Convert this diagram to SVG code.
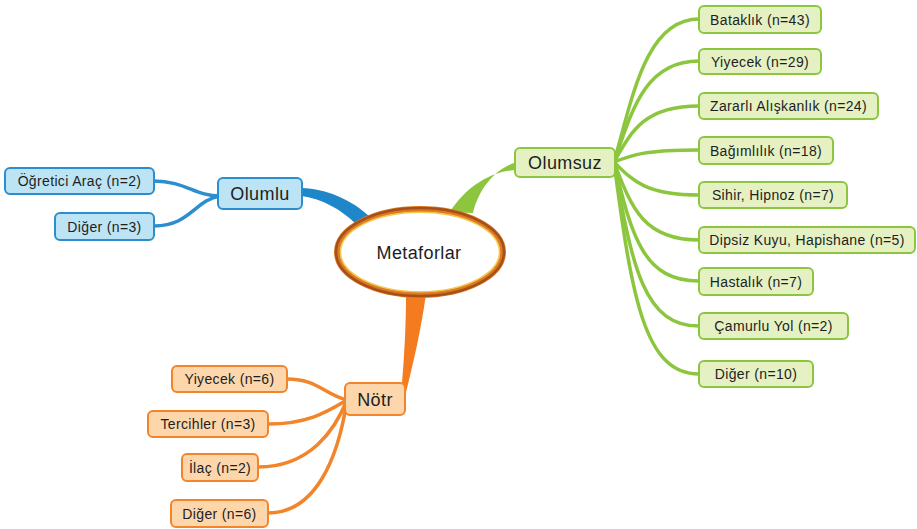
<svg xmlns="http://www.w3.org/2000/svg" width="917" height="529" viewBox="0 0 917 529">
<style>
text{font-family:"Liberation Sans",Arial,sans-serif;fill:#1e1e1e;text-anchor:middle;dominant-baseline:central}
.c{font-size:14px;letter-spacing:0.35px}
.m{font-size:18px;letter-spacing:0.4px}
.b rect{fill:#bde4f4;stroke:#2b8fcf;stroke-width:2}
.g rect{fill:#e5f1c3;stroke:#8cc63f;stroke-width:2}
.o rect{fill:#fdd6ac;stroke:#f2842a;stroke-width:2}
.lb{fill:none;stroke:#2b8fcf;stroke-width:3.5}
.lg{fill:none;stroke:#8cc63f;stroke-width:3.5}
.lo{fill:none;stroke:#f2842a;stroke-width:3.5}
</style>
<g id="connectors">
<path d="M302 188 C326 189 352 199 372 219 L357 225 C341 209 322 199 302 196 Z" fill="#1f87c9"/>
<path d="M517 162 C496 168 479 188 473 213 L450 212 C465 188 490 171 517 170 Z" fill="#8cc63f"/>
<path d="M406 294 L426 294 C421 330 413 365 405 396 L401 396 C404 360 406 330 406 294 Z" fill="#f47b20"/>
<path class="lb" d="M220 196 C195 196 185 181 154 181"/>
<path class="lb" d="M220 196 C195 200 190 226 154 226"/>
<path class="lg" d="M614 162 C632 100 645 19 699 19"/>
<path class="lg" d="M614 162 C632 110 645 61 699 61"/>
<path class="lg" d="M614 162 C632 130 645 106 699 106"/>
<path class="lg" d="M614 162 C632 155 645 150 699 150"/>
<path class="lg" d="M614 162 C632 180 645 195 699 195"/>
<path class="lg" d="M614 162 C632 210 645 240 699 240"/>
<path class="lg" d="M614 162 C632 240 645 281 699 281"/>
<path class="lg" d="M614 162 C632 270 645 326 699 326"/>
<path class="lg" d="M614 162 C632 300 645 374 699 374"/>
<path class="lo" d="M347 400 C325 395 318 379 287 379"/>
<path class="lo" d="M347 400 C330 410 310 424 268 424"/>
<path class="lo" d="M347 400 C335 430 310 467 258 467"/>
<path class="lo" d="M347 400 C338 460 315 513 268 513"/>
</g>
<g id="metaforlar">
<ellipse cx="420" cy="252" rx="83" ry="43" fill="#fff" stroke="#e07a22" stroke-width="6"/>
<ellipse cx="420" cy="252" rx="84" ry="44" fill="none" stroke="#a4501a" stroke-width="2.5"/>
<ellipse cx="420" cy="252" rx="79.5" ry="39.8" fill="none" stroke="#f2c94a" stroke-width="1.5"/>
<text x="419" y="253" class="m">Metaforlar</text>
</g>
<g id="olumlu" class="b"><rect x="218" y="178" width="84" height="31" rx="5"/><text x="260" y="194" class="m">Olumlu</text></g>
<g id="ogretici" class="b"><rect x="5" y="168" width="149" height="26" rx="5"/><text x="79.5" y="181" class="c">Öğretici Araç (n=2)</text></g>
<g id="diger3" class="b"><rect x="55" y="213" width="99" height="27" rx="5"/><text x="104.5" y="226.5" class="c">Diğer (n=3)</text></g>
<g id="olumsuz" class="g"><rect x="515" y="148" width="100" height="29" rx="5"/><text x="565" y="163" class="m">Olumsuz</text></g>
<g id="bataklik" class="g"><rect x="699" y="6" width="122" height="27" rx="5"/><text x="760" y="19.5" class="c">Bataklık (n=43)</text></g>
<g id="yiyecek29" class="g"><rect x="699" y="49" width="122" height="25" rx="5"/><text x="760" y="61.5" class="c">Yiyecek (n=29)</text></g>
<g id="zararli" class="g"><rect x="699" y="93" width="179" height="26" rx="5"/><text x="788.5" y="106" class="c">Zararlı Alışkanlık (n=24)</text></g>
<g id="bagimlilik" class="g"><rect x="699" y="137" width="134" height="27" rx="5"/><text x="766" y="150.5" class="c">Bağımlılık (n=18)</text></g>
<g id="sihir" class="g"><rect x="699" y="182" width="148" height="26" rx="5"/><text x="773" y="195" class="c">Sihir, Hipnoz (n=7)</text></g>
<g id="dipsiz" class="g"><rect x="699" y="227" width="216" height="26" rx="5"/><text x="807" y="240" class="c">Dipsiz Kuyu, Hapishane (n=5)</text></g>
<g id="hastalik" class="g"><rect x="699" y="268" width="114" height="27" rx="5"/><text x="756" y="281.5" class="c">Hastalık (n=7)</text></g>
<g id="camurlu" class="g"><rect x="699" y="313" width="149" height="26" rx="5"/><text x="773.5" y="326" class="c">Çamurlu Yol (n=2)</text></g>
<g id="diger10" class="g"><rect x="699" y="361" width="114" height="26" rx="5"/><text x="756" y="374" class="c">Diğer (n=10)</text></g>
<g id="notr" class="o"><rect x="345" y="383" width="60" height="32" rx="5"/><text x="375" y="399.5" class="m">Nötr</text></g>
<g id="yiyecek6" class="o"><rect x="172" y="366" width="115" height="26" rx="5"/><text x="229.5" y="379" class="c">Yiyecek (n=6)</text></g>
<g id="tercihler" class="o"><rect x="148" y="411" width="120" height="26" rx="5"/><text x="208" y="424" class="c">Tercihler (n=3)</text></g>
<g id="ilac" class="o"><rect x="182" y="454" width="76" height="27" rx="5"/><text x="220" y="467.5" class="c">İlaç (n=2)</text></g>
<g id="diger6" class="o"><rect x="171" y="500" width="97" height="27" rx="5"/><text x="219.5" y="513.5" class="c">Diğer (n=6)</text></g>
</svg>
